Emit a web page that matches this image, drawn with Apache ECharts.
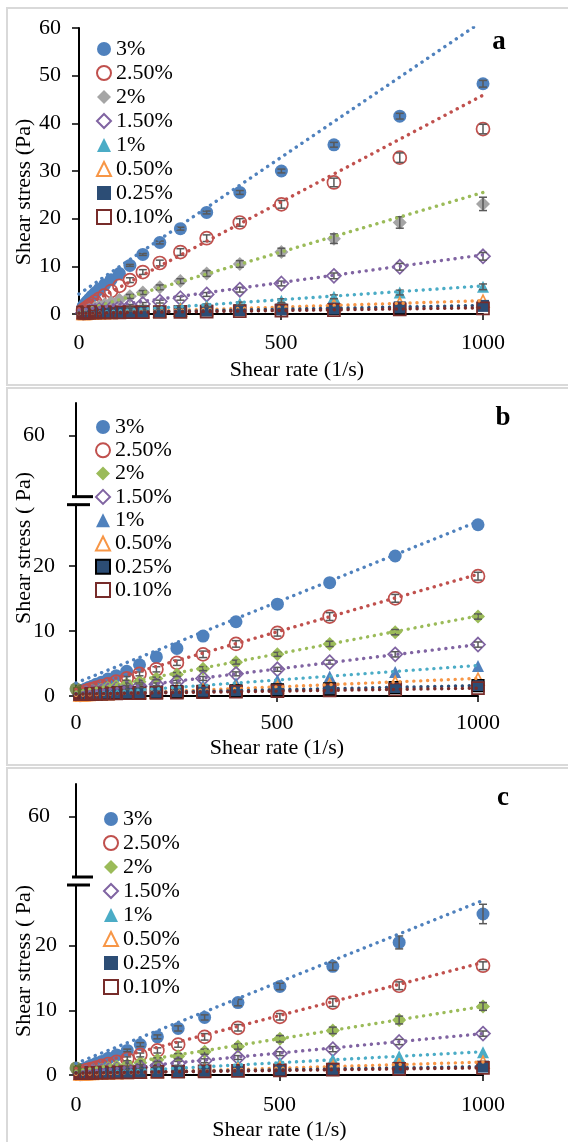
<!DOCTYPE html>
<html>
<head>
<meta charset="utf-8">
<script src="https://cdn.jsdelivr.net/npm/echarts@6/dist/echarts.min.js"></script>
<style>
  html, body { margin: 0; padding: 0; background: #fff; }
  #chart { width: 568px; height: 1142px; }
</style>
</head>
<body>
<div id="chart"></div>
<script>
// shear rates (1/s) shared by all three panels
const shearRate = [10, 12.6, 15.8, 20, 25.1, 31.6, 39.8, 50.1, 63.1, 79.4, 100, 126, 158, 200, 251, 316, 398, 501, 631, 794, 1000];
const concentrations = ["3%", "2.50%", "2%", "1.50%", "1%", "0.50%", "0.25%", "0.10%"];

// panel a - shear stress (Pa)
const a3 = [1.55, 1.85, 2.2, 2.6, 3.1, 3.7, 4.4, 5.2, 6.1, 7.2, 8.5, 10.2, 12.5, 15.0, 17.9, 21.3, 25.5, 30.0, 35.5, 41.5, 48.3];
const a25 = [0.75, 0.9, 1.1, 1.4, 1.7, 2.1, 2.6, 3.2, 3.9, 4.8, 5.9, 7.1, 8.8, 10.7, 13.0, 15.9, 19.2, 23.0, 27.6, 32.8, 38.8];
const a2 = [0.4, 0.45, 0.55, 0.7, 0.85, 1.05, 1.3, 1.6, 2.0, 2.4, 3.0, 3.7, 4.5, 5.6, 6.9, 8.5, 10.5, 13.0, 15.8, 19.2, 23.1];
const a15 = [0.25, 0.3, 0.35, 0.4, 0.45, 0.55, 0.65, 0.8, 0.95, 1.15, 1.4, 1.7, 2.1, 2.6, 3.3, 4.1, 5.1, 6.4, 8.0, 9.9, 12.1];
const a1 = [0.15, 0.18, 0.2, 0.22, 0.25, 0.3, 0.35, 0.4, 0.45, 0.55, 0.65, 0.8, 0.95, 1.15, 1.4, 1.8, 2.2, 2.8, 3.6, 4.5, 5.7];
const a05 = [0.1, 0.12, 0.14, 0.16, 0.18, 0.2, 0.24, 0.27, 0.3, 0.35, 0.4, 0.45, 0.55, 0.65, 0.8, 0.95, 1.15, 1.4, 1.8, 2.2, 2.7];
const a025 = [0.24, 0.25, 0.25, 0.26, 0.27, 0.28, 0.3, 0.3, 0.33, 0.35, 0.38, 0.4, 0.45, 0.5, 0.6, 0.7, 0.8, 0.95, 1.15, 1.4, 1.7];
const a01 = [0.29, 0.29, 0.3, 0.3, 0.3, 0.31, 0.32, 0.33, 0.34, 0.35, 0.36, 0.38, 0.4, 0.42, 0.45, 0.5, 0.6, 0.7, 0.8, 0.95, 1.2];

// panel b
const b3 = [0.65, 0.75, 0.85, 0.95, 1.1, 1.3, 1.5, 1.8, 2.1, 2.6, 3.1, 3.8, 4.8, 6.0, 7.3, 9.2, 11.4, 14.1, 17.4, 21.5, 26.3];
const b25 = [0.45, 0.5, 0.55, 0.65, 0.75, 0.9, 1.05, 1.25, 1.5, 1.8, 2.2, 2.7, 3.4, 4.1, 5.1, 6.4, 8.0, 9.7, 12.2, 15.0, 18.4];
const b2 = [0.35, 0.4, 0.45, 0.5, 0.55, 0.65, 0.75, 0.9, 1.05, 1.25, 1.5, 1.8, 2.2, 2.7, 3.3, 4.2, 5.2, 6.4, 8.0, 9.8, 12.2];
const b15 = [0.28, 0.3, 0.34, 0.38, 0.42, 0.48, 0.55, 0.62, 0.72, 0.85, 1.0, 1.2, 1.5, 1.8, 2.2, 2.7, 3.4, 4.1, 5.2, 6.4, 7.9];
const b1 = [0.22, 0.24, 0.26, 0.28, 0.3, 0.34, 0.38, 0.42, 0.48, 0.55, 0.62, 0.75, 0.9, 1.05, 1.3, 1.6, 1.95, 2.4, 3.0, 3.7, 4.6];
const b05 = [0.18, 0.19, 0.2, 0.21, 0.23, 0.25, 0.27, 0.3, 0.34, 0.38, 0.42, 0.48, 0.55, 0.65, 0.8, 0.95, 1.15, 1.4, 1.7, 2.1, 2.6];
const b025 = [0.31, 0.31, 0.32, 0.32, 0.33, 0.34, 0.35, 0.36, 0.38, 0.4, 0.43, 0.46, 0.5, 0.55, 0.62, 0.7, 0.8, 0.95, 1.1, 1.3, 1.6];
const b01 = [0.3, 0.3, 0.31, 0.31, 0.32, 0.33, 0.34, 0.35, 0.36, 0.38, 0.4, 0.42, 0.45, 0.48, 0.52, 0.58, 0.65, 0.75, 0.85, 1.0, 1.2];

// panel c
const c3 = [0.65, 0.75, 0.85, 0.95, 1.1, 1.3, 1.5, 1.8, 2.1, 2.6, 3.1, 3.8, 4.7, 5.9, 7.2, 8.9, 11.2, 13.7, 16.8, 20.5, 24.9];
const c25 = [0.4, 0.46, 0.52, 0.6, 0.7, 0.83, 0.97, 1.15, 1.4, 1.7, 2.05, 2.5, 3.1, 3.8, 4.7, 5.9, 7.3, 9.0, 11.2, 13.8, 16.9];
const c2 = [0.33, 0.36, 0.4, 0.45, 0.5, 0.58, 0.67, 0.78, 0.9, 1.08, 1.3, 1.55, 1.9, 2.35, 2.9, 3.6, 4.4, 5.6, 6.9, 8.5, 10.6];
const c15 = [0.28, 0.3, 0.32, 0.35, 0.38, 0.43, 0.48, 0.54, 0.62, 0.72, 0.85, 1.0, 1.2, 1.45, 1.8, 2.2, 2.7, 3.3, 4.0, 5.1, 6.4];
const c1 = [0.22, 0.23, 0.24, 0.26, 0.28, 0.31, 0.34, 0.38, 0.43, 0.48, 0.55, 0.63, 0.75, 0.88, 1.05, 1.3, 1.55, 1.9, 2.4, 2.9, 3.5];
const c05 = [0.18, 0.19, 0.2, 0.21, 0.22, 0.24, 0.26, 0.28, 0.31, 0.34, 0.38, 0.42, 0.48, 0.55, 0.65, 0.76, 0.9, 1.1, 1.35, 1.6, 2.0];
const c025 = [0.32, 0.32, 0.33, 0.33, 0.34, 0.35, 0.36, 0.37, 0.38, 0.4, 0.42, 0.45, 0.48, 0.52, 0.58, 0.64, 0.72, 0.82, 0.95, 1.1, 1.3];
const c01 = [0.3, 0.3, 0.31, 0.31, 0.32, 0.33, 0.34, 0.35, 0.36, 0.38, 0.4, 0.42, 0.44, 0.47, 0.5, 0.57, 0.64, 0.72, 0.82, 0.95, 1.1];

// linear trend lines: value at shear rate 0 and at 1000
const trendX = [0, 1000];
const trendStartA = [4.2, 1.1, 0.5, 0.8, 0.1, 0.1, 0.2, 0.15];
const trendEndA = [61.5, 45.9, 25.5, 12.4, 5.9, 2.8, 1.8, 1.3];
const trendStartB = [2.0, 1.0, 0.6, 0.4, 0.2, 0.1, 0.3, 0.3];
const trendEndB = [26.8, 18.7, 12.3, 7.9, 4.7, 2.7, 1.6, 1.2];
const trendStartC = [1.8, 1.0, 0.6, 0.4, 0.2, 0.1, 0.3, 0.3];
const trendEndC = [27.0, 17.4, 10.6, 6.4, 3.6, 2.0, 1.3, 1.1];

// error bars (+/- Pa) for the ten highest shear rates
const errA3 = [0.2, 0.2, 0.3, 0.3, 0.3, 0.4, 0.4, 0.5, 0.6, 0.7];
const errA25 = [0.5, 0.5, 0.6, 0.7, 0.7, 0.8, 0.8, 0.9, 1.0, 1.0];
const errA2 = [0.4, 0.4, 0.5, 0.5, 0.6, 0.7, 0.8, 1.0, 1.2, 1.4];
const errA15 = [0.3, 0.3, 0.3, 0.4, 0.4, 0.5, 0.5, 0.6, 0.7, 0.8];
const errA1 = [0.2, 0.2, 0.2, 0.3, 0.3, 0.3, 0.4, 0.4, 0.5, 0.6];
const errB25 = [0.3, 0.3, 0.4, 0.4, 0.5, 0.5, 0.5, 0.6, 0.6, 0.6];
const errB2 = [0.2, 0.2, 0.2, 0.3, 0.3, 0.3, 0.3, 0.4, 0.4, 0.4];
const errB15 = [0.2, 0.2, 0.2, 0.2, 0.3, 0.3, 0.3, 0.3, 0.4, 0.4];
const errC3 = [0.2, 0.3, 0.3, 0.4, 0.4, 0.5, 0.5, 0.6, 1.0, 1.5];
const errC25 = [0.3, 0.3, 0.4, 0.4, 0.5, 0.5, 0.5, 0.6, 0.6, 0.6];
const errC2 = [0.3, 0.3, 0.3, 0.4, 0.4, 0.4, 0.5, 0.5, 0.6, 0.6];
const errC15 = [0.2, 0.2, 0.2, 0.3, 0.3, 0.3, 0.3, 0.4, 0.4, 0.4];

// odd point sitting on the y axis in panels b and c
const axisPointB = [[0, 1.1]];
const axisPointC = [[0, 1.1]];

// y axis ticks; panels b and c have a break at 30 and the tick at 40 reads "60"
const yTicksA = [0, 10, 20, 30, 40, 50, 60];
const yTicksBroken = [0, 10, 20, 40];
const breakValue = 30;
const brokenTickLabels = { 40: "60" };
const xTicks = [0, 500, 1000];

const FONT = '"Liberation Serif", "Times New Roman", serif';
const trendColors = ["#4F81BD", "#C0504D", "#9BBB59", "#8064A2", "#4BACC6", "#F79646", "#2C4D75", "#772C2A"];
const NONE = "rgba(0,0,0,0)";

function markers(grayTwo, oneColor, navyBorder) {
  return [
    { symbol: "circle", size: 13, fill: "#4F81BD", stroke: "#4F81BD", w: 0 },
    { symbol: "circle", size: 13, fill: NONE, stroke: "#C0504D", w: 1.7 },
    { symbol: "diamond", size: 14, fill: grayTwo ? "#A5A5A5" : "#9BBB59", stroke: NONE, w: 0 },
    { symbol: "diamond", size: 14, fill: NONE, stroke: "#8064A2", w: 1.7 },
    { symbol: "triangle", size: 12, fill: oneColor, stroke: NONE, w: 0 },
    { symbol: "triangle", size: 12, fill: NONE, stroke: "#F79646", w: 1.7 },
    { symbol: "rect", size: 12, fill: "#2C4D75", stroke: navyBorder ? "#000" : NONE, w: navyBorder ? 1.2 : 0 },
    { symbol: "rect", size: 12, fill: NONE, stroke: "#772C2A", w: 1.7 }
  ];
}

const panels = [
  { key: "a", values: [a3, a25, a2, a15, a1, a05, a025, a01], trendStart: trendStartA, trendEnd: trendEndA,
    errors: [[0, errA3], [1, errA25], [2, errA2], [3, errA15], [4, errA1]], marks: markers(true, "#4BACC6", false) },
  { key: "b", values: [b3, b25, b2, b15, b1, b05, b025, b01], trendStart: trendStartB, trendEnd: trendEndB,
    errors: [[1, errB25], [2, errB2], [3, errB15]], marks: markers(false, "#4F81BD", true), axisPoint: axisPointB },
  { key: "c", values: [c3, c25, c2, c15, c1, c05, c025, c01], trendStart: trendStartC, trendEnd: trendEndC,
    errors: [[0, errC3], [1, errC25], [2, errC2], [3, errC15]], marks: markers(false, "#4BACC6", false), axisPoint: axisPointC }
];

function renderErrorBar(params, api) {
  const x = api.value(0), y = api.value(1), e = api.value(2);
  const top = api.coord([x, y + e]);
  const bot = api.coord([x, y - e]);
  const cap = 4;
  const style = { stroke: "#595959", lineWidth: 1.5 };
  return {
    type: "group",
    children: [
      { type: "line", shape: { x1: top[0], y1: top[1], x2: bot[0], y2: bot[1] }, style },
      { type: "line", shape: { x1: top[0] - cap, y1: top[1], x2: top[0] + cap, y2: top[1] }, style },
      { type: "line", shape: { x1: bot[0] - cap, y1: bot[1], x2: bot[0] + cap, y2: bot[1] }, style }
    ]
  };
}

function renderBreak(params, api) {
  const p = api.coord([api.value(0), api.value(1)]);
  return {
    type: "group",
    children: [
      { type: "rect", shape: { x: p[0] - 9, y: p[1] - 3, width: 14, height: 6 }, style: { fill: "#fff" } },
      { type: "line", shape: { x1: p[0] - 4, y1: p[1] - 4, x2: p[0] + 17, y2: p[1] - 4 }, style: { stroke: "#000", lineWidth: 3 } },
      { type: "line", shape: { x1: p[0] - 9, y1: p[1] + 4, x2: p[0] + 14, y2: p[1] + 4 }, style: { stroke: "#000", lineWidth: 3 } }
    ]
  };
}

const series = [];
panels.forEach((p, i) => {
  p.values.forEach((vals, k) => {
    const m = p.marks[k];
    series.push({
      type: "scatter",
      name: p.key + "|" + concentrations[k],
      xAxisIndex: i, yAxisIndex: i,
      symbol: m.symbol, symbolSize: m.size,
      itemStyle: { color: m.fill, borderColor: m.stroke, borderWidth: m.w, opacity: 1 },
      data: shearRate.map((x, j) => [x, vals[j]]),
      z: 2
    });
  });
  if (p.axisPoint) {
    series.push({
      type: "scatter", name: p.key + "|axis", xAxisIndex: i, yAxisIndex: i,
      symbol: "circle", symbolSize: 13, itemStyle: { color: "#5E7430" },
      data: p.axisPoint, z: 2
    });
  }
  p.errors.forEach(([k, errs]) => {
    const vals = p.values[k];
    const off = shearRate.length - errs.length;
    series.push({
      type: "custom", xAxisIndex: i, yAxisIndex: i, renderItem: renderErrorBar,
      data: errs.map((e, j) => [shearRate[off + j], vals[off + j], e]),
      encode: { x: 0, y: 1 }, z: 3, silent: true
    });
  });
  p.trendStart.forEach((s, k) => {
    series.push({
      type: "line", xAxisIndex: i, yAxisIndex: i, showSymbol: false, symbol: "none",
      data: [[trendX[0], s], [trendX[1], p.trendEnd[k]]],
      lineStyle: { color: trendColors[k], width: 3.4, type: [0.1, 6.8], cap: "round" },
      clip: true, z: 4, silent: true
    });
  });
  if (i > 0) {
    series.push({
      type: "custom", xAxisIndex: i, yAxisIndex: i, renderItem: renderBreak,
      data: [[0, breakValue]], clip: false, z: 6, silent: true
    });
  }
});

const gridBoxes = [
  { left: 79, top: 28, width: 404, height: 286 },
  { left: 76, top: 403, width: 402, height: 293 },
  { left: 76, top: 784, width: 407, height: 293 }
];
const xLabelMargin = [18, 16, 19];
const xNameGap = [45, 41, 44];
const yLabelMargin = [18, 21, 19];
const hiPad = [0, 10, 7];

const axisText = { fontFamily: FONT, fontSize: 22, color: "#000" };

const option = {
  animation: false,
  backgroundColor: "#fff",
  grid: gridBoxes.map(g => Object.assign({ containLabel: false }, g)),
  xAxis: panels.map((p, i) => ({
    type: "value", gridIndex: i, min: 0, max: 1000, interval: 500,
    name: "Shear rate (1/s)", nameLocation: "middle", nameGap: xNameGap[i],
    nameTextStyle: Object.assign({}, axisText, i === 0 ? { padding: [0, 0, 0, 32] } : {}),
    axisLine: { lineStyle: { color: "#000", width: 2 } },
    axisTick: { show: true, inside: false, length: 6, customValues: xTicks, lineStyle: { color: "#000", width: 1.5 } },
    axisLabel: Object.assign({ margin: xLabelMargin[i], customValues: xTicks, formatter: v => String(v) }, axisText),
    splitLine: { show: false }
  })),
  yAxis: panels.map((p, i) => {
    const ticks = i === 0 ? yTicksA : yTicksBroken;
    return {
      type: "value", gridIndex: i, min: 0, max: i === 0 ? 60 : 45, interval: 10,
      axisLine: { show: true, lineStyle: { color: "#000", width: 2 } },
      axisTick: { show: true, inside: false, length: 7, customValues: ticks, lineStyle: { color: "#000", width: 1.5 } },
      axisLabel: Object.assign({
        margin: yLabelMargin[i],
        customValues: ticks,
        formatter: v => (i > 0 && v in brokenTickLabels) ? "{hi|" + brokenTickLabels[v] + "}" : String(v),
        rich: { hi: Object.assign({ padding: [0, hiPad[i], 0, 0] }, axisText) }
      }, axisText),
      splitLine: { show: false }
    };
  }),
  legend: panels.map((p, i) => ({
    data: concentrations.map(c => p.key + "|" + c),
    orient: "vertical",
    left: [91, 90, 98][i],
    top: [33, 411, 803][i],
    itemWidth: 14, itemHeight: 14,
    itemGap: [2, 1.3, 2][i],
    selectedMode: false,
    formatter: n => n.split("|")[1],
    textStyle: axisText
  })),
  graphic: [
    { type: "rect", shape: { x: 7, y: 8, width: 580, height: 377 }, style: { fill: NONE, stroke: "#d9d9d9", lineWidth: 2 }, silent: true },
    { type: "rect", shape: { x: 7, y: 388, width: 580, height: 377 }, style: { fill: NONE, stroke: "#d9d9d9", lineWidth: 2 }, silent: true },
    { type: "rect", shape: { x: 7, y: 768, width: 580, height: 390 }, style: { fill: NONE, stroke: "#d9d9d9", lineWidth: 2 }, silent: true },
    { type: "text", x: 24, y: 192, rotation: Math.PI / 2, style: { text: "Shear stress (Pa)", font: "22px " + FONT, fill: "#000", align: "center", verticalAlign: "middle", textAlign: "center", textVerticalAlign: "middle" } },
    { type: "text", x: 24, y: 548, rotation: Math.PI / 2, style: { text: "Shear stress ( Pa)", font: "22px " + FONT, fill: "#000", align: "center", verticalAlign: "middle", textAlign: "center", textVerticalAlign: "middle" } },
    { type: "text", x: 24, y: 961, rotation: Math.PI / 2, style: { text: "Shear stress ( Pa)", font: "22px " + FONT, fill: "#000", align: "center", verticalAlign: "middle", textAlign: "center", textVerticalAlign: "middle" } },
    { type: "text", x: 499, y: 42, style: { text: "a", font: "bold 27px " + FONT, fill: "#000", align: "center", verticalAlign: "middle", textAlign: "center", textVerticalAlign: "middle" } },
    { type: "text", x: 503, y: 418, style: { text: "b", font: "bold 27px " + FONT, fill: "#000", align: "center", verticalAlign: "middle", textAlign: "center", textVerticalAlign: "middle" } },
    { type: "text", x: 503, y: 798, style: { text: "c", font: "bold 27px " + FONT, fill: "#000", align: "center", verticalAlign: "middle", textAlign: "center", textVerticalAlign: "middle" } }
  ],
  series: series
};

const chart = echarts.init(document.getElementById("chart"), null, { renderer: "canvas" });
chart.setOption(option);
</script>
</body>
</html>
